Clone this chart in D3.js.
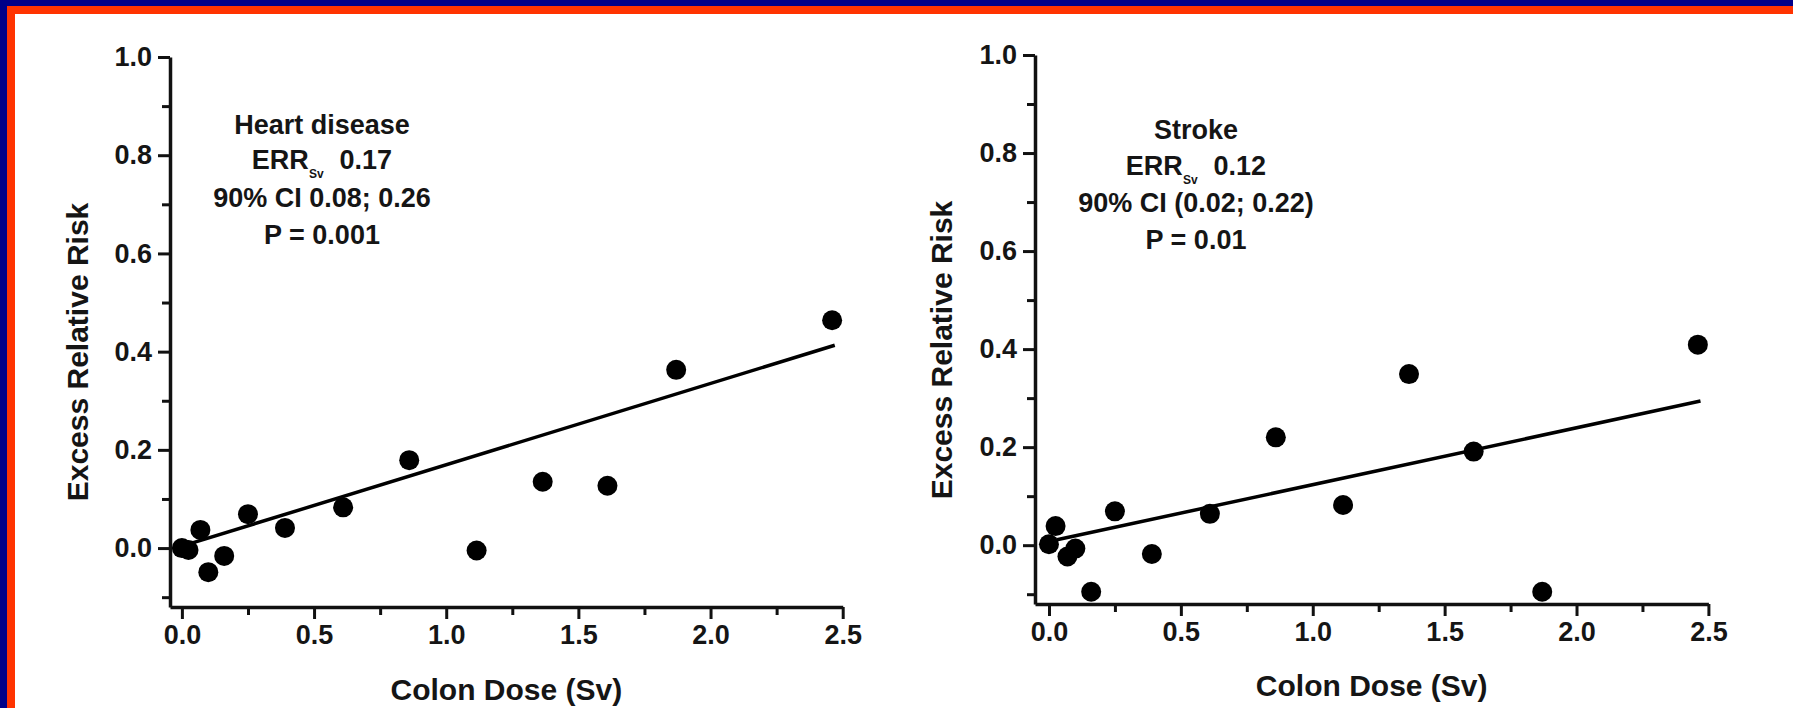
<!DOCTYPE html>
<html>
<head>
<meta charset="utf-8">
<script src="https://cdn.jsdelivr.net/npm/d3@7"></script>
<style>
  html, body { margin: 0; padding: 0; background: #fff; }
  svg { display: block; }
  text { font-family: "Liberation Sans", Arial, sans-serif; fill: #151515; }
</style>
</head>
<body>
<svg id="chart" width="1793" height="708"></svg>
<script>
// colon dose (Sv) of each dose group, shared by both panels
const doses = [0.0, 0.025, 0.07, 0.10, 0.16, 0.25, 0.39, 0.61, 0.86, 1.115, 1.365, 1.61, 1.87, 2.46];

// excess relative risk per dose group
const heartErr = [0.0, -0.004, 0.037, -0.049, -0.016, 0.069, 0.041, 0.083, 0.179, -0.005, 0.135, 0.127, 0.363, 0.464];
const strokeErr = [0.002, 0.039, -0.023, -0.007, -0.095, 0.069, -0.018, 0.064, 0.22, 0.082, 0.349, 0.191, -0.095, 0.409];

// fitted lines, start and end points
const heartFitX = [0.0, 2.47];
const heartFitY = [0.004, 0.413];
const strokeFitX = [0.03, 2.47];
const strokeFitY = [0.011, 0.294];

const xTicks = [0.0, 0.5, 1.0, 1.5, 2.0, 2.5];
const xMinorTicks = [0.25, 0.75, 1.25, 1.75, 2.25];
const yTicks = [0.0, 0.2, 0.4, 0.6, 0.8, 1.0];
const yMinorTicks = [-0.1, 0.1, 0.3, 0.5, 0.7, 0.9];

const heartNote = ["Heart disease", "0.17", "90% CI 0.08; 0.26", "P = 0.001"];
const strokeNote = ["Stroke", "0.12", "90% CI (0.02; 0.22)", "P = 0.01"];

const svg = d3.select("#chart");

// frame: navy then red strip along top and left
svg.append("rect").attr("x", 0).attr("y", 0).attr("width", 1793).attr("height", 14).attr("fill", "#ff3300");
svg.append("rect").attr("x", 0).attr("y", 0).attr("width", 15).attr("height", 708).attr("fill", "#ff3300");
svg.append("rect").attr("x", 0).attr("y", 0).attr("width", 1793).attr("height", 6).attr("fill", "#000088");
svg.append("rect").attr("x", 0).attr("y", 0).attr("width", 7).attr("height", 708).attr("fill", "#000088");

function drawPanel(p) {
  const x = d3.scaleLinear().domain(p.xDomain).range(p.xRange);
  const y = d3.scaleLinear().domain(p.yDomain).range(p.yRange);
  const g = svg.append("g");

  // minor ticks first, no labels
  g.append("g")
    .attr("transform", `translate(${p.xRange[0]},0)`)
    .call(d3.axisLeft(y).tickValues(yMinorTicks).tickSize(8).tickFormat(""))
    .call(s => s.select(".domain").remove());
  g.append("g")
    .attr("transform", `translate(0,${p.yRange[0]})`)
    .call(d3.axisBottom(x).tickValues(xMinorTicks).tickSize(8).tickFormat(""))
    .call(s => s.select(".domain").remove());

  g.append("g")
    .attr("transform", `translate(${p.xRange[0]},0)`)
    .call(d3.axisLeft(y).tickValues(yTicks).tickSize(12).tickSizeOuter(0).tickPadding(6).tickFormat(d3.format(".1f")));
  g.append("g")
    .attr("transform", `translate(0,${p.yRange[0]})`)
    .call(d3.axisBottom(x).tickValues(xTicks).tickSize(12).tickSizeOuter(0).tickPadding(6).tickFormat(d3.format(".1f")));

  g.selectAll(".domain").attr("stroke", "#111").attr("stroke-width", 3.5);
  g.selectAll(".tick line").attr("stroke", "#111").attr("stroke-width", 3);
  g.selectAll(".tick text")
    .style("font-family", '"Liberation Sans", Arial, sans-serif')
    .attr("font-size", 27).attr("font-weight", "bold").attr("fill", "#151515");

  // fitted line
  g.append("line")
    .attr("x1", x(p.fitX[0])).attr("y1", y(p.fitY[0]))
    .attr("x2", x(p.fitX[1])).attr("y2", y(p.fitY[1]))
    .attr("stroke", "#000").attr("stroke-width", 3.5);

  // points
  g.selectAll(".pt")
    .data(doses.map((d, i) => [d, p.err[i]]))
    .enter()
    .append("circle")
    .attr("class", "pt")
    .attr("cx", d => x(d[0]))
    .attr("cy", d => y(d[1]))
    .attr("r", 10)
    .attr("fill", "#000");

  // annotation block
  const note = g.append("g").attr("font-size", 27).attr("font-weight", "bold").attr("text-anchor", "middle");
  note.append("text").attr("x", p.noteX).attr("y", p.noteY[0]).text(p.note[0]);
  const err = note.append("text").attr("x", p.noteX).attr("y", p.noteY[1]);
  err.append("tspan").text("ERR");
  err.append("tspan").attr("font-size", 12).attr("dy", 9).text("Sv");
  err.append("tspan").attr("dy", -9).attr("dx", 16).text(p.note[1]);
  note.append("text").attr("x", p.noteX).attr("y", p.noteY[2]).text(p.note[2]);
  note.append("text").attr("x", p.noteX).attr("y", p.noteY[3]).text(p.note[3]);

  // axis titles
  g.append("text")
    .attr("x", (p.xRange[0] + p.xRange[1]) / 2)
    .attr("y", p.xTitleY)
    .attr("text-anchor", "middle")
    .attr("font-size", 30).attr("font-weight", "bold")
    .text("Colon Dose (Sv)");
  g.append("text")
    .attr("transform", `translate(${p.yTitleX},${p.yTitleMid}) rotate(-90)`)
    .attr("text-anchor", "middle")
    .attr("font-size", 30).attr("font-weight", "bold")
    .text("Excess Relative Risk");
}

drawPanel({
  err: heartErr, fitX: heartFitX, fitY: heartFitY, note: heartNote,
  xDomain: [-0.045, 2.5], xRange: [170, 842.7],
  yDomain: [-0.12, 1.0], yRange: [607, 57],
  noteX: 322, noteY: [134, 169, 207, 244],
  xTitleY: 700, yTitleX: 88, yTitleMid: 352
});

drawPanel({
  err: strokeErr, fitX: strokeFitX, fitY: strokeFitY, note: strokeNote,
  xDomain: [-0.053, 2.5], xRange: [1035, 1708.4],
  yDomain: [-0.12, 1.0], yRange: [604, 55],
  noteX: 1196, noteY: [139, 175, 212, 249],
  xTitleY: 696, yTitleX: 952, yTitleMid: 350
});
</script>
</body>
</html>
